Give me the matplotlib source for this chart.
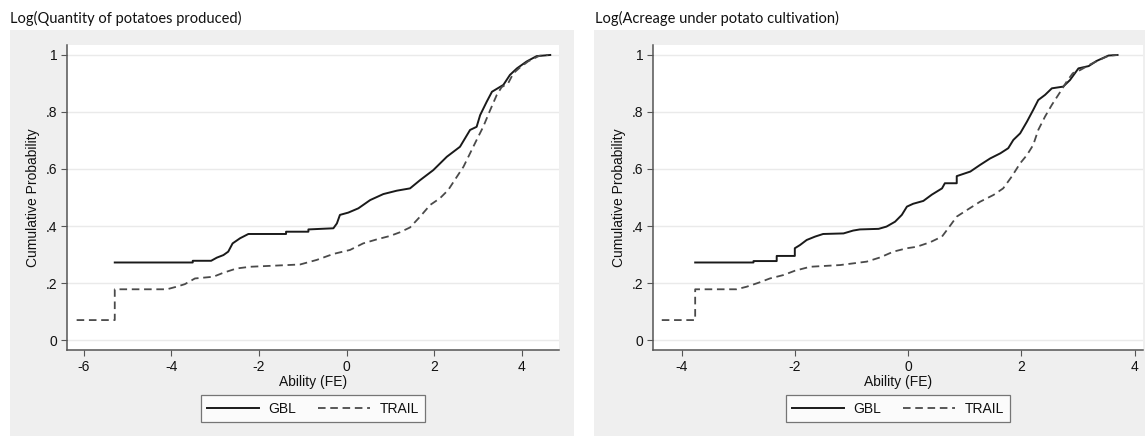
import matplotlib
matplotlib.use("Agg")
import matplotlib.pyplot as plt
from matplotlib.patches import Rectangle

titles = ["Log(Quantity of potatoes produced)", "Log(Acreage under potato cultivation)"]
series_names = ["GBL", "TRAIL"]

qty_gbl_x = [-5.29, -3.51, -3.51, -3.09, -2.96, -2.81, -2.70, -2.60, -2.43, -2.24, -1.38, -1.38,
             -0.87, -0.87, -0.30, -0.22, -0.15, 0.04, 0.27, 0.54, 0.84, 1.15, 1.45, 1.68, 1.98,
             2.29, 2.59, 2.82, 2.97, 3.05, 3.20, 3.32, 3.58, 3.73, 3.89, 4.11, 4.34, 4.65]
qty_gbl_y = [0.272, 0.272, 0.278, 0.278, 0.289, 0.298, 0.310, 0.339, 0.357, 0.372, 0.372, 0.380,
             0.380, 0.388, 0.392, 0.409, 0.439, 0.447, 0.462, 0.491, 0.512, 0.524, 0.532, 0.561, 0.596,
             0.643, 0.678, 0.737, 0.748, 0.789, 0.836, 0.871, 0.895, 0.930, 0.953, 0.977, 0.996, 1.0]

qty_trail_x = [-6.16, -5.29, -5.29, -4.10, -3.88, -3.69, -3.46, -3.04, -2.81, -2.51, -2.20, -1.06,
               -0.68, -0.30, 0.08, 0.38, 0.69, 0.99, 1.22, 1.45, 1.68, 1.91, 2.13, 2.32, 2.52,
               2.67, 2.82, 2.97, 3.12, 3.28, 3.43, 3.54, 3.69, 3.81, 3.95, 4.15, 4.40, 4.60]
qty_trail_y = [0.070, 0.070, 0.178, 0.178, 0.187, 0.196, 0.216, 0.222, 0.236, 0.251, 0.257, 0.265,
               0.281, 0.302, 0.316, 0.339, 0.353, 0.365, 0.378, 0.395, 0.433, 0.474, 0.497, 0.526, 0.573,
               0.608, 0.655, 0.702, 0.748, 0.807, 0.860, 0.887, 0.901, 0.936, 0.955, 0.978, 0.997, 1.0]

acr_gbl_x = [-3.76, -2.73, -2.73, -2.32, -2.32, -2.00, -2.00, -1.91, -1.79, -1.64, -1.50, -1.14,
             -0.97, -0.85, -0.52, -0.38, -0.23, -0.11, -0.02, 0.09, 0.27, 0.42, 0.60, 0.65, 0.86,
             0.86, 1.10, 1.27, 1.45, 1.63, 1.77, 1.86, 1.98, 2.10, 2.21, 2.30, 2.42, 2.54, 2.74,
             2.86, 3.01, 3.19, 3.33, 3.54, 3.70]
acr_gbl_y = [0.272, 0.272, 0.277, 0.277, 0.295, 0.295, 0.322, 0.333, 0.351, 0.363, 0.372, 0.374,
             0.384, 0.388, 0.390, 0.398, 0.415, 0.439, 0.468, 0.478, 0.488, 0.510, 0.532, 0.550, 0.550,
             0.575, 0.591, 0.614, 0.637, 0.655, 0.673, 0.702, 0.725, 0.766, 0.807, 0.842, 0.860, 0.883, 0.889,
             0.912, 0.953, 0.961, 0.979, 0.998, 1.0]

acr_trail_x = [-4.35, -3.76, -3.76, -3.03, -2.85, -2.64, -2.44, -2.20, -2.00, -1.73, -1.20, -0.73,
               -0.49, -0.26, -0.02, 0.15, 0.39, 0.60, 0.71, 0.86, 1.04, 1.27, 1.51, 1.68, 1.83,
               1.98, 2.10, 2.21, 2.30, 2.42, 2.54, 2.69, 2.80, 2.91, 3.04, 3.20, 3.35, 3.55, 3.70]
acr_trail_y = [0.070, 0.070, 0.178, 0.178, 0.187, 0.201, 0.216, 0.228, 0.243, 0.257, 0.263, 0.275,
               0.290, 0.310, 0.322, 0.327, 0.343, 0.363, 0.392, 0.433, 0.456, 0.485, 0.509, 0.532, 0.573,
               0.620, 0.649, 0.684, 0.737, 0.784, 0.825, 0.871, 0.906, 0.936, 0.947, 0.965, 0.980, 0.998, 1.0]

panels = [
    (qty_gbl_x, qty_gbl_y, qty_trail_x, qty_trail_y, (-6.38, 4.85), [-6, -4, -2, 0, 2, 4]),
    (acr_gbl_x, acr_gbl_y, acr_trail_x, acr_trail_y, (-4.505, 4.15), [-4, -2, 0, 2, 4]),
]
y_ticks = [0, 0.2, 0.4, 0.6, 0.8, 1.0]
y_ticklabels = ["0", ".2", ".4", ".6", ".8", "1"]

W, H = 1145, 437
fig = plt.figure(figsize=(W / 100, H / 100), dpi=100)
fig.patch.set_facecolor("white")

bg = "#efefef"
grey_boxes = [(10, 30, 574, 436), (594, 30, 1145, 436)]
ax_boxes = [(67, 45, 559, 350), (653, 45, 1143, 350)]
title_x = [10, 595]
txt = "#111111"

for k, (gx, gy, tx, ty, xlim, xt) in enumerate(panels):
    x0, y0, x1, y1 = grey_boxes[k]
    fig.add_artist(Rectangle((x0 / W, 1 - y1 / H), (x1 - x0) / W, (y1 - y0) / H,
                             transform=fig.transFigure, facecolor=bg, edgecolor="none",
                             zorder=-10))
    fig.text(title_x[k] / W, 1 - 23 / H, titles[k], family="Lato", fontsize=10.5,
             color=txt, va="baseline", ha="left")

    a0, b0, a1, b1 = ax_boxes[k]
    ax = fig.add_axes([a0 / W, 1 - b1 / H, (a1 - a0) / W, (b1 - b0) / H])
    ax.set_facecolor("white")
    for s in ["top", "right"]:
        ax.spines[s].set_visible(False)
    for s in ["left", "bottom"]:
        ax.spines[s].set_color("#555555")
        ax.spines[s].set_linewidth(1.1)

    ax.set_yticks(y_ticks)
    ax.set_yticklabels(y_ticklabels)
    ax.set_xticks(xt)
    ax.set_xticklabels([str(v) for v in xt])
    ax.tick_params(direction="out", length=4, width=0.8, color="#555555",
                   labelsize=10, labelcolor=txt, pad=3)
    for lab in ax.get_xticklabels() + ax.get_yticklabels():
        lab.set_family("Liberation Sans")
    ax.grid(axis="y", color="#eaeaea", linewidth=1.0)
    ax.set_axisbelow(True)

    ax.plot(gx, gy, color="#1a1a1a", lw=1.4, label=series_names[0])
    ax.plot(tx, ty, color="#4a4a4a", lw=1.3, linestyle=(0, (4.2, 2.6)), label=series_names[1])

    ax.set_xlim(*xlim)
    ax.set_ylim(-0.035, 1.035)
    ax.set_xlabel("Ability (FE)", family="Liberation Sans", fontsize=10, color=txt, labelpad=1)
    ax.set_ylabel("Cumulative Probability", family="Liberation Sans", fontsize=10,
                  color=txt, labelpad=4)

    leg = ax.legend(loc="center", bbox_to_anchor=(0.5, -0.192), ncol=2, frameon=True,
                    fancybox=False, handlelength=3.7, handletextpad=0.7, columnspacing=1.6,
                    borderpad=0.45, prop={"family": "Liberation Sans", "size": 10})
    leg.get_frame().set_edgecolor("#555555")
    leg.get_frame().set_linewidth(0.9)
    for t in leg.get_texts():
        t.set_color(txt)

fig.savefig("out.png", dpi=100)
